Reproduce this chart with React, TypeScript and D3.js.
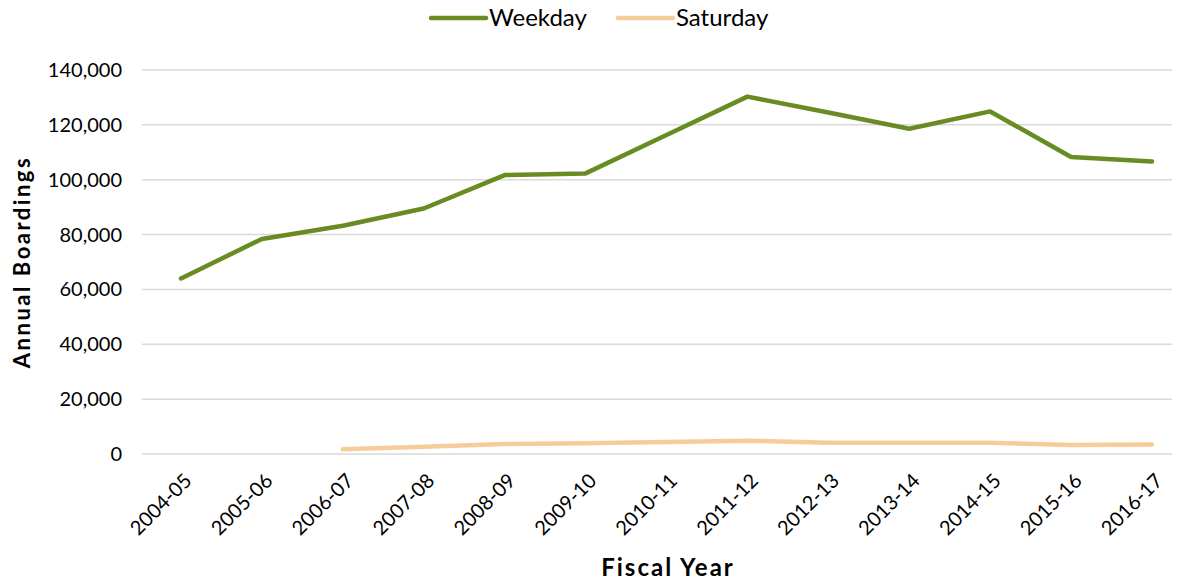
import React from "react";
import * as d3 from "d3";

const categories = ["2004-05","2005-06","2006-07","2007-08","2008-09","2009-10","2010-11","2011-12","2012-13","2013-14","2014-15","2015-16","2016-17"];
const weekday: (number | null)[] = [64000, 78400, 83200, 89500, 101700, 102300, 116300, 130300, 124500, 118600, 124900, 108300, 106600];
const saturday: (number | null)[] = [null, null, 1700, 2650, 3650, 3900, 4350, 4850, 4100, 4100, 4100, 3300, 3500];
const yTicks = [0, 20000, 40000, 60000, 80000, 100000, 120000, 140000];

const W = 1186, H = 585;
const FONT = "Lato, 'Open Sans', sans-serif";

export default function App() {
  const x = d3.scalePoint<string>().domain(categories).range([181, 1152]).padding(0);
  const y = d3.scaleLinear().domain([0, 140000]).range([454, 70]);
  const fmt = d3.format(",");
  const mk = (vals: (number | null)[]) =>
    d3.line<number | null>()
      .defined((d) => d !== null)
      .x((_, i) => x(categories[i])!)
      .y((d) => y(d as number))(vals) || "";

  return (
    <svg width={W} height={H} style={{ position: "absolute", left: 0, top: 0, fontFamily: FONT }}>
      <rect width={W} height={H} fill="#fff" />
      {yTicks.map((t) => (
        <g key={t}>
          <line x1={142} x2={1172} y1={y(t)} y2={y(t)} stroke="#d9d9d9" strokeWidth={1.5} />
          <text x={122} y={y(t)} dy="0.35em" textAnchor="end" fontSize={20} fill="#000">{fmt(t)}</text>
        </g>
      ))}
      {categories.map((c) => (
        <text key={c} transform={`translate(${x(c)! + 12},${482}) rotate(-45)`} textAnchor="end" fontSize={20} fill="#000">{c}</text>
      ))}
      <path d={mk(saturday)} fill="none" stroke="#f5cd9a" strokeWidth={4.5} strokeLinecap="round" strokeLinejoin="round" />
      <path d={mk(weekday)} fill="none" stroke="#688c22" strokeWidth={4.5} strokeLinecap="round" strokeLinejoin="round" />
      <text transform={`translate(30,262) rotate(-90)`} textAnchor="middle" fontSize={22} fontWeight="bold" letterSpacing={2.5} fill="#000">Annual Boardings</text>
      <text x={668} y={576} textAnchor="middle" fontSize={24} fontWeight="bold" letterSpacing={2} fill="#000">Fiscal Year</text>
      <line x1={431} x2={486} y1={18} y2={18} stroke="#688c22" strokeWidth={4.5} strokeLinecap="round" />
      <text x={489} y={18} dy="0.35em" fontSize={24} fill="#000">Weekday</text>
      <line x1={618} x2={673} y1={18} y2={18} stroke="#f5cd9a" strokeWidth={4.5} strokeLinecap="round" />
      <text x={676} y={18} dy="0.35em" fontSize={24} fill="#000">Saturday</text>
    </svg>
  );
}
